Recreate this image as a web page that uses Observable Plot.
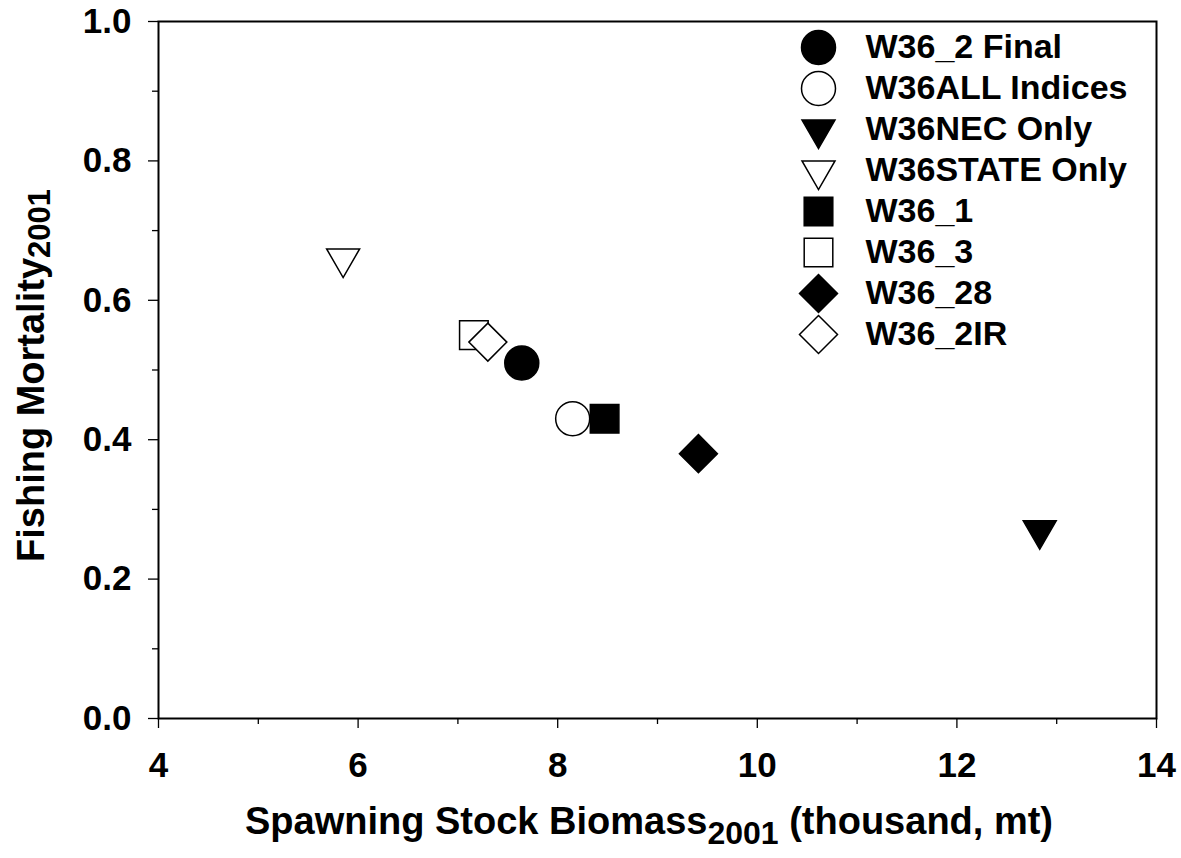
<!DOCTYPE html>
<html><head><meta charset="utf-8">
<script src="https://cdn.jsdelivr.net/npm/d3@7"></script>
<script src="https://cdn.jsdelivr.net/npm/@observablehq/plot@0.6"></script>
<style>
body{margin:0;background:#fff;}
#chart{position:relative;width:1181px;height:858px;font-family:"Liberation Sans",Arial,sans-serif;}
#legend{position:absolute;left:790px;top:20px;}
</style></head><body><div id="chart"></div>
<script>
// ---- data ----
const runs = ["W36_2 Final","W36ALL Indices","W36NEC Only","W36STATE Only","W36_1","W36_3","W36_28","W36_2IR"];
const ssb2001 = [7.64, 8.15, 12.83, 5.85, 8.47, 7.16, 9.41, 7.30];
const f2001 = [0.51, 0.43, 0.27, 0.66, 0.43, 0.55, 0.38, 0.54];
const shapes = ["circle","circle","triangleDown","triangleDown","square","square","diamond","diamond"];
const filled = [true,false,true,false,true,false,true,false];
const xTicks = [4,6,8,10,12,14];
const xMinorTicks = [5,7,9,11,13];
const yTicks = [0,0.2,0.4,0.6,0.8,1.0];
const yMinorTicks = [0.1,0.3,0.5,0.7,0.9];

const data = runs.map((run,i)=>({run, ssb: ssb2001[i], f: f2001[i], shape: shapes[i], filled: filled[i]}));

// ---- symbols ----
const R = 17, BASE = Math.PI*R*R;
const sym = {
  circle: d3.symbolCircle,
  square: {draw(c,size){const k=Math.sqrt(size/BASE), h=14.3*k; c.rect(-h,-h,2*h,2*h);}},
  diamond: {draw(c,size){const k=Math.sqrt(size/BASE), h=19*k; c.moveTo(0,-h); c.lineTo(h,0); c.lineTo(0,h); c.lineTo(-h,0); c.closePath();}},
  triangleDown: {draw(c,size){const k=Math.sqrt(size/BASE), w=16.5*k, t=w*Math.sqrt(3); c.moveTo(-w,-t/3); c.lineTo(w,-t/3); c.lineTo(0,2*t/3); c.closePath();}}
};
const order = ["circle","triangleDown","square","diamond"];
const dotMarks = (d, extra) => order.map(s => Plot.dot(d, {
  filter: v => v.shape === s, symbol: sym[s], r: R,
  fill: v => v.filled ? "black" : "white", stroke: "black", strokeWidth: 1.5, ...extra
}));

const font = "'Liberation Sans', Arial, sans-serif";
const chart = Plot.plot({
  width: 1181, height: 858,
  marginLeft: 158, marginRight: 25, marginTop: 21, marginBottom: 140,
  style: {fontFamily: font, fontWeight: "bold", color: "black", background: "white", overflow: "visible"},
  x: {domain: [4,14], label: null},
  y: {domain: [0,1], label: null},
  marks: [
    Plot.axisX(xMinorTicks, {tickSize: 6, tickFormat: () => "", strokeWidth: 1.3, label: null}),
    Plot.axisX(xTicks, {tickSize: 10, tickPadding: 24, fontSize: 35, tickFormat: d => String(d), strokeWidth: 1.3, label: null}),
    Plot.axisY(yMinorTicks, {tickSize: 6, tickFormat: () => "", strokeWidth: 1.3, label: null}),
    Plot.axisY(yTicks, {tickSize: 10, tickPadding: 17, fontSize: 35, tickFormat: d3.format(".1f"), strokeWidth: 1.3, label: null}),
    Plot.frame({stroke: "black", strokeWidth: 2}),
    ...dotMarks(data, {x: "ssb", y: "f"})
  ]
});
document.getElementById("chart").appendChild(chart);

// axis titles with subscripts
const svg = d3.select(chart);
const xr = chart.scale("x").range, yr = chart.scale("y").range;
const xt = svg.append("text").attr("x", (xr[0]+xr[1])/2 - 8).attr("y", 834)
  .attr("text-anchor","middle").attr("font-size",38).attr("font-weight","bold")
  .attr("font-family",font).attr("fill","black").style("white-space","pre");
xt.append("tspan").text("Spawning Stock Biomass");
xt.append("tspan").attr("font-size",32).attr("dy",10).text("2001");
xt.append("tspan").attr("dy",-10).text(" (thousand, mt)");

const yt = svg.append("text").attr("transform",`translate(44,${(yr[0]+yr[1])/2 + 6}) rotate(-90)`)
  .attr("text-anchor","middle").attr("font-size",38).attr("font-weight","bold")
  .attr("font-family",font).attr("fill","black").style("white-space","pre");
yt.append("tspan").text("Fishing Mortality");
yt.append("tspan").attr("font-size",31).attr("dy",6).text("2001");

// legend: a small Plot of its own
const legend = Plot.plot({
  width: 380, height: 324,
  marginLeft: 0, marginRight: 0, marginTop: 27, marginBottom: 10,
  style: {fontFamily: font, fontWeight: "bold", color: "black", background: "transparent", overflow: "visible"},
  y: {type: "point", domain: runs, axis: null, padding: 0},
  marks: [
    ...dotMarks(data, {y: "run", frameAnchor: "left", dx: 28}),
    Plot.text(data, {y: "run", text: "run", frameAnchor: "left", dx: 75, textAnchor: "start", fontSize: 34, fill: "black"})
  ]
});
legend.id = "legend";
document.getElementById("chart").appendChild(legend);
</script></body></html>
